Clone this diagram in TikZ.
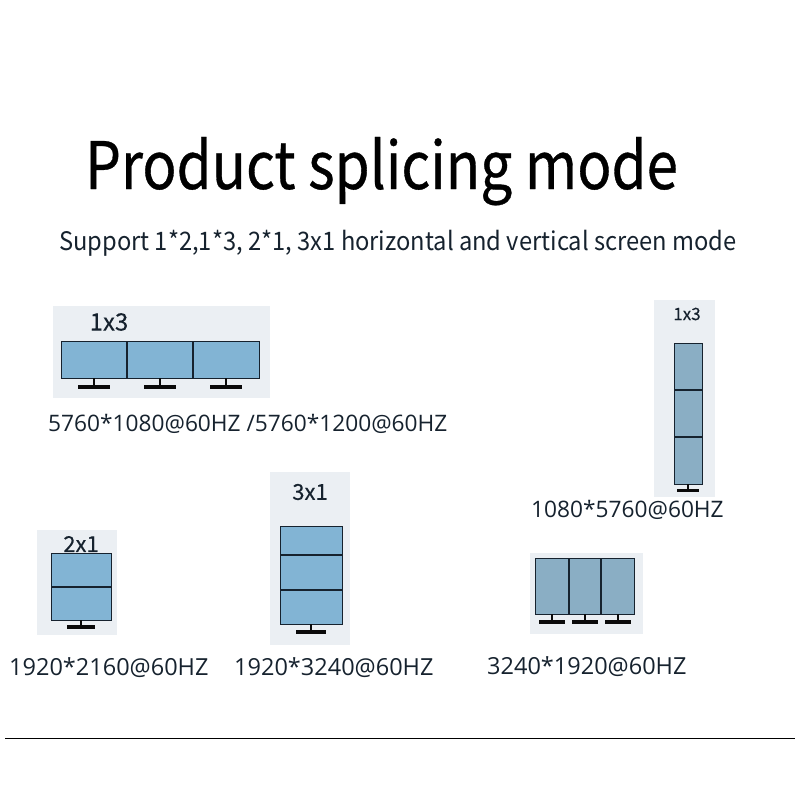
\documentclass[tikz,border=0pt]{standalone}
\usepackage{fontspec}
\usepackage{tikz}
\usepackage{xcolor}
\setmainfont[FakeBold=0.2]{Noto Sans CJK SC}
\newfontfamily\sizefont{Open Sans}
\newfontfamily\titlefont[FakeStretch=0.865,FakeBold=0.5]{Noto Sans CJK SC}
\newfontfamily\subfont[FakeStretch=0.93]{Noto Sans CJK SC}
\usetikzlibrary{positioning,fit,calc}
\definecolor{spink}{HTML}{16222E}
\definecolor{sppanel}{HTML}{EBEFF3}
\definecolor{spblue}{HTML}{82B4D4}
\definecolor{spgrey}{HTML}{8AAEC4}
\definecolor{spbar}{HTML}{0A0A0A}
\tikzset{
  sppane/.style={fill=sppanel, draw=none, inner sep=0pt, anchor=north west},
  spscreen/.style={draw=spink, line width=1.3pt, fill=spblue, inner sep=0pt, anchor=north west},
  spdiv/.style={draw=spink, line width=1.3pt},
  spstem/.style={draw=spbar, line width=2.6pt},
  spbase/.style={draw=spbar, line width=4.4pt},
  spsize/.style={font=\sizefont\fontsize{22.7}{23}\selectfont, text=spink, inner sep=0pt, anchor=base west},
  splow/.style={spsize, font=\sizefont\fontsize{23.5}{24}\selectfont},
  spmode/.style={font=\fontsize{22}{22}\selectfont, text=spink, inner sep=0pt}
}
\begin{document}
\begin{tikzpicture}[x=1pt,y=-1pt]
\useasboundingbox (0,0) rectangle (800,800);
\node[font=\titlefont\fontsize{65.4}{66}\selectfont, text=black, inner sep=0pt, anchor=base west] (title) at (85,189) {Product splicing mode};
\node[font=\subfont\fontsize{25.5}{26}\selectfont, text=spink, inner sep=0pt, anchor=base west] (subtitle) at (59,250) {Support 1*2,1*3, 2*1, 3x1 horizontal and vertical screen mode};
% 1x3 row
\node[sppane, minimum width=217pt, minimum height=92pt] (panea) at (53,306) {};
\node[spmode, font=\fontsize{24}{24}\selectfont] (modea) at (109,322) {1x3};
\node[spscreen, minimum width=198pt, minimum height=37pt] (screena) at (61,341) {};
\draw[spdiv] (127,341) -- (127,378);
\draw[spdiv] (193,341) -- (193,378);
\foreach \cx in {94,160,226} {
  \draw[spstem] (\cx,378) -- (\cx,387);
  \draw[spbase] (\cx-16,387) -- (\cx+16,387);
}
\node[spsize] (sizea) at (48,431) {5760*1080@60HZ /5760*1200@60HZ};
% 1x3 column
\node[sppane, minimum width=61pt, minimum height=197pt] (paneb) at (654,300) {};
\node[spmode, font=\fontsize{17}{17}\selectfont] (modeb) at (687,314) {1x3};
\node[spscreen, fill=spgrey, minimum width=28pt, minimum height=141pt] (screenb) at (674,343) {};
\draw[spdiv] (674,390) -- (702,390);
\draw[spdiv] (674,437) -- (702,437);
\draw[spstem] (688,484) -- (688,490);
\draw[spbase, line width=3pt] (677,490) -- (699,490);
\node[spsize] (sizeb) at (531,517) {1080*5760@60HZ};
% 2x1
\node[sppane, minimum width=80pt, minimum height=105pt] (panec) at (37,530) {};
\node[spmode] (modec) at (81,544) {2x1};
\node[spscreen, minimum width=60pt, minimum height=67pt] (screenc) at (51,553) {};
\draw[spdiv] (51,587) -- (111,587);
\draw[spstem] (81,620) -- (81,627);
\draw[spbase] (67,627) -- (95,627);
\node[splow] (sizec) at (9,675) {1920*2160@60HZ};
% 3x1
\node[sppane, minimum width=80pt, minimum height=173pt] (paned) at (270,472) {};
\node[spmode] (moded) at (310,492) {3x1};
\node[spscreen, minimum width=62pt, minimum height=98pt] (screend) at (280,526) {};
\draw[spdiv] (280,555) -- (342,555);
\draw[spdiv] (280,590) -- (342,590);
\draw[spstem] (311,624) -- (311,632);
\draw[spbase] (296,632) -- (326,632);
\node[splow] (sized) at (234,675) {1920*3240@60HZ};
% 3 side by side, no mode text
\node[sppane, minimum width=113pt, minimum height=81pt] (panee) at (530,553) {};
\node[spscreen, fill=spgrey, minimum width=99pt, minimum height=56pt] (screene) at (535,558) {};
\draw[spdiv] (569,558) -- (569,614);
\draw[spdiv] (601,558) -- (601,614);
\foreach \cx in {552,585,618} {
  \draw[spstem] (\cx,614) -- (\cx,622);
  \draw[spbase, line width=3.4pt] (\cx-13,622) -- (\cx+13,622);
}
\node[splow] (sizee) at (487,674) {3240*1920@60HZ};
% bottom rule
\coordinate (rulel) at (5,738);
\coordinate (ruler) at (795,738);
\draw[black, line width=0.8pt] (rulel) -- (ruler);
\end{tikzpicture}
\end{document}
